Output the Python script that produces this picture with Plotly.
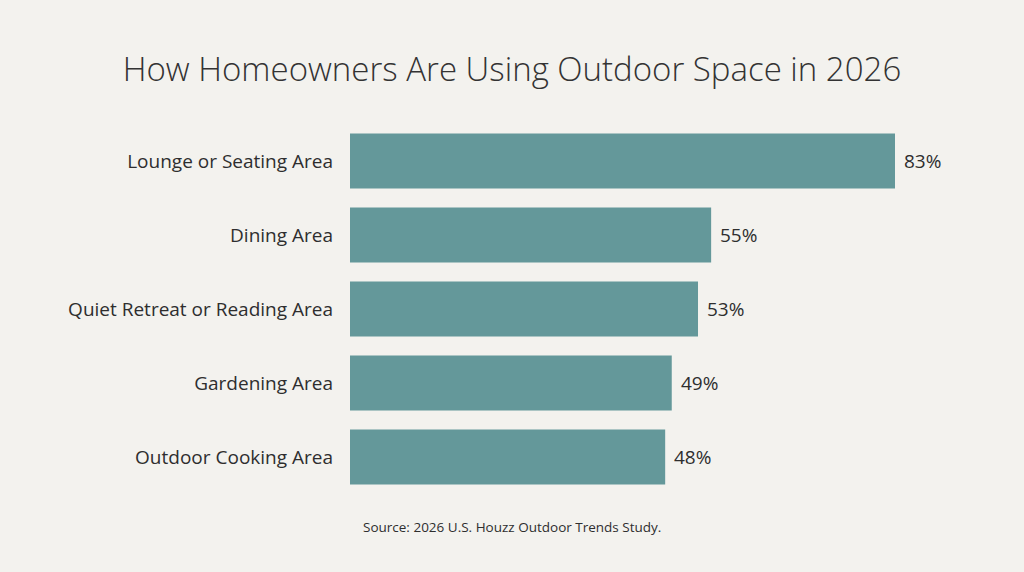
import plotly.graph_objects as go

categories = ["Lounge or Seating Area", "Dining Area", "Quiet Retreat or Reading Area",
              "Gardening Area", "Outdoor Cooking Area"]
values = [83, 55, 53, 49, 48]
value_labels = ["83%", "55%", "53%", "49%", "48%"]

title_text = "How Homeowners Are Using Outdoor Space in 2026"
source_text = "Source: 2026 U.S. Houzz Outdoor Trends Study."

BG = "#F3F2EE"
BAR = "#64989A"
TXT = "#2E2E2E"
FONT = "Open Sans"

L, R, T, B = 350, 74, 124, 78
W, H = 1024, 572
PW, PH = W - L - R, H - T - B

fig = go.Figure()
fig.add_trace(go.Bar(
    y=categories, x=values, orientation="h",
    marker=dict(color=BAR, line=dict(width=0)),
    hoverinfo="skip",
))

for c, v, t in zip(categories, values, value_labels):
    fig.add_annotation(x=v, y=c, text=t, xanchor="left", xshift=7, showarrow=False,
                       font=dict(family=FONT, size=19, color=TXT))

fig.add_annotation(x=(512 - L) / PW, y=-(527 - (H - B)) / PH, xref="paper", yref="paper",
                   text=source_text, showarrow=False, xanchor="center", yanchor="middle",
                   font=dict(family=FONT, size=13.5, color=TXT))

fig.update_layout(
    width=W, height=H,
    paper_bgcolor=BG, plot_bgcolor=BG,
    margin=dict(l=L, r=R, t=T, b=B),
    bargap=0.26,
    showlegend=False,
    title=dict(text=title_text, x=0.5, xanchor="center", y=1 - 69 / H, yanchor="middle",
               font=dict(family=FONT, size=33, color="#333333", weight=300)),
    xaxis=dict(range=[0, 83 * PW / 545], visible=False, fixedrange=True),
    yaxis=dict(autorange="reversed", showgrid=False, zeroline=False, showline=False,
               ticks="", ticklabelstandoff=16, fixedrange=True,
               tickfont=dict(family=FONT, size=19, color=TXT)),
)

fig.write_html("out.html", config={"displayModeBar": False},
               post_script="document.body.style.margin='0';document.body.style.overflow='hidden';")
